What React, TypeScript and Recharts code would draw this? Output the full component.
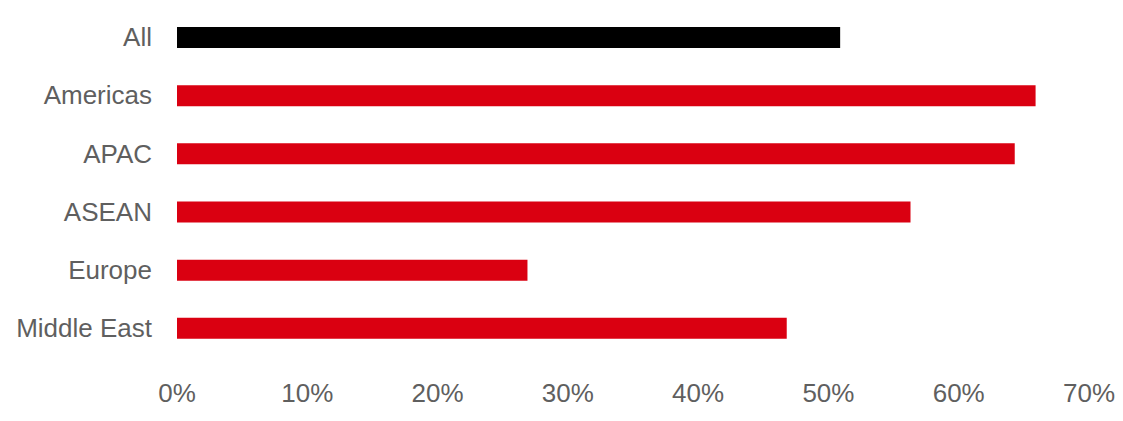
import { Bar, BarChart, Cell, XAxis, YAxis } from "recharts";

// regions, top to bottom
const regions = ["All", "Americas", "APAC", "ASEAN", "Europe", "Middle East"];
// share in %
const shares = [50.9, 65.9, 64.3, 56.3, 26.9, 46.8];
const xTicks = [0, 10, 20, 30, 40, 50, 60, 70];

const RED = "#DA0011";
const BLACK = "#000000";

const data = regions.map((name, i) => ({ name, value: shares[i] }));

const tickStyle = {
  fontFamily: "'Liberation Sans', Arial, sans-serif",
  fontSize: 26,
  fill: "#5f5f5f",
};

const App = () => {
  return (
    <div style={{ width: 1123, height: 421, background: "#fff" }}>
      <style>{`body { margin: 0; }`}</style>
      <BarChart
        width={1123}
        height={421}
        data={data}
        layout="vertical"
        margin={{ top: 8, right: 34, left: 0, bottom: 0 }}
      >
        {/* value axis */}
        <XAxis
          type="number"
          domain={[0, 70]}
          ticks={xTicks}
          tickFormatter={(v) => `${v}%`}
          axisLine={false}
          tickLine={false}
          tickSize={0}
          tickMargin={27}
          height={64}
          tick={tickStyle}
          interval={0}
        />
        {/* region labels */}
        <YAxis
          type="category"
          dataKey="name"
          width={177}
          axisLine={false}
          tickLine={false}
          tickSize={0}
          tickMargin={25}
          tick={tickStyle}
          interval={0}
        />
        <Bar dataKey="value" barSize={21} isAnimationActive={false}>
          {data.map((d) => (
            <Cell key={d.name} fill={d.name === "All" ? BLACK : RED} />
          ))}
        </Bar>
      </BarChart>
    </div>
  );
};

export default App;
